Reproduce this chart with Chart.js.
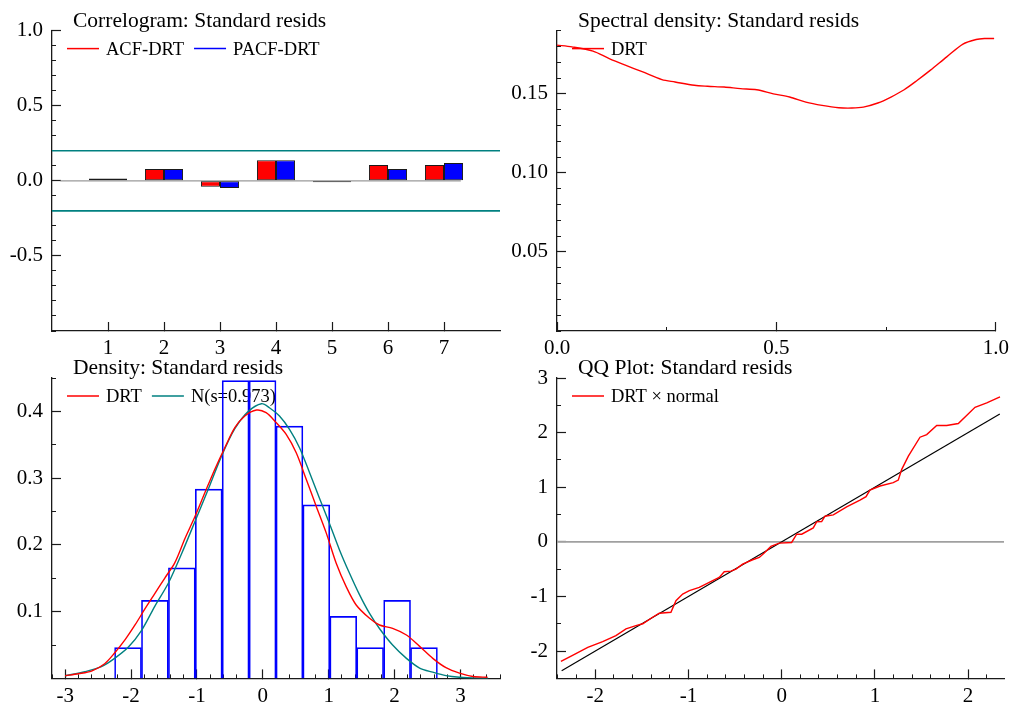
<!DOCTYPE html>
<html>
<head>
<meta charset="utf-8">
<title>Standard resids</title>
<script src="https://cdn.jsdelivr.net/npm/chart.js@4.4.1/dist/chart.umd.min.js"></script>
<style>
  body { margin: 0; background: #fff; }
  #wrap { position: relative; width: 1023px; height: 709px; background: #fff; overflow: hidden; }
  #wrap canvas { position: absolute; left: 0; top: 0; }
</style>
</head>
<body>
<div id="wrap">
  <canvas id="acfChart" width="1023" height="709"></canvas>
  <canvas id="specChart" width="1023" height="709"></canvas>
  <canvas id="densChart" width="1023" height="709"></canvas>
  <canvas id="qqChart" width="1023" height="709"></canvas>
</div>
<script>
// ---- correlogram
const lags = [1, 2, 3, 4, 5, 6, 7];
const acfVals = [0.015, 0.079, -0.040, 0.136, -0.009, 0.105, 0.105];
const pacfVals = [0.015, 0.079, -0.048, 0.136, -0.009, 0.079, 0.118];
const bandX = [0, 8];
const bandHi = [0.2, 0.2];
const bandLo = [-0.2, -0.2];
const acfZeroX = [0.15, 7.3];
const acfYTicks = [-0.5, 0, 0.5, 1];
const acfXTicks = [1, 2, 3, 4, 5, 6, 7];

// ---- spectral density
const specFreq = [0, 0.034, 0.082, 0.119, 0.157, 0.194, 0.239, 0.269, 0.313, 0.343, 0.381, 0.418, 0.455, 0.493, 0.530,
  0.567, 0.604, 0.642, 0.672, 0.698, 0.731, 0.761, 0.791, 0.821, 0.851, 0.888, 0.925, 0.955, 0.974, 0.996];
const specVals = [0.1808, 0.1797, 0.1770, 0.1723, 0.1680, 0.1640, 0.1590, 0.1575, 0.1554, 0.1548, 0.1543, 0.1533, 0.1526, 0.1500, 0.1480,
  0.1448, 0.1427, 0.1412, 0.1410, 0.1416, 0.1442, 0.1480, 0.1526, 0.1586, 0.1650, 0.1734, 0.1815, 0.1844, 0.1850, 0.1850];
const specYTicks = [0.05, 0.10, 0.15];
const specXTicks = [0, 0.5, 1];

// ---- density
const histMid = [-2.046, -1.638, -1.229, -0.821, -0.413, -0.004, 0.404, 0.812, 1.221, 1.629, 2.038, 2.446];
const histVals = [0.046, 0.117, 0.1655, 0.2835, 0.446, 0.446, 0.378, 0.260, 0.093, 0.046, 0.117, 0.046];
const kdeX = [-3.00, -2.80, -2.60, -2.40, -2.25, -2.09, -1.94, -1.79, -1.64, -1.49, -1.335, -1.18, -1.03, -0.88, -0.73,
  -0.577, -0.425, -0.273, -0.096, 0.05, 0.20, 0.355, 0.507, 0.66, 0.81, 0.962, 1.114, 1.265, 1.417, 1.62,
  1.77, 1.97, 2.18, 2.38, 2.58, 2.78, 2.985, 3.19, 3.41];
const kdeY = [0.004, 0.007, 0.011, 0.022, 0.038, 0.058, 0.080, 0.104, 0.127, 0.150, 0.1735, 0.210, 0.2425, 0.278, 0.313,
  0.3455, 0.3755, 0.393, 0.402, 0.398, 0.3835, 0.3655, 0.338, 0.298, 0.258, 0.218, 0.1725, 0.1375, 0.110, 0.090,
  0.080, 0.075, 0.065, 0.048, 0.030, 0.016, 0.0078, 0.0028, 0.0018];
const normX = [-3.00, -2.70, -2.45, -2.25, -2.04, -1.84, -1.64, -1.435, -1.23, -1.03, -0.83, -0.627, -0.425, -0.22, -0.02,
  0.10, 0.253, 0.405, 0.557, 0.71, 0.86, 1.01, 1.164, 1.316, 1.467, 1.62, 1.77, 1.97, 2.18, 2.38,
  2.58, 2.78, 2.985, 3.29, 3.42];
const normY = [0.004, 0.010, 0.0175, 0.030, 0.047, 0.072, 0.108, 0.1425, 0.1875, 0.235, 0.283, 0.333, 0.374, 0.400, 0.4115,
  0.4055, 0.393, 0.373, 0.3455, 0.308, 0.270, 0.2325, 0.1925, 0.1575, 0.1255, 0.0973, 0.0748, 0.050, 0.030, 0.0155,
  0.0093, 0.0042, 0.0018, 0.0003, 0.0002];
const densYTicks = [0.1, 0.2, 0.3, 0.4];
const densXTicks = [-3, -2, -1, 0, 1, 2, 3];

// ---- QQ plot
const qqX = [-2.368, -2.243, -2.08, -1.92, -1.778, -1.67, -1.563, -1.49, -1.384, -1.313, -1.188, -1.134, -1.062, -0.99, -0.884,
  -0.777, -0.67, -0.616, -0.544, -0.49, -0.419, -0.311, -0.24, -0.187, -0.115, -0.026, 0.107, 0.161, 0.215, 0.339,
  0.375, 0.429, 0.465, 0.554, 0.697, 0.84, 0.905, 0.947, 1.055, 1.197, 1.251, 1.288, 1.359, 1.484, 1.556,
  1.663, 1.77, 1.895, 2.074, 2.2, 2.342];
const qqY = [-2.19, -2.08, -1.93, -1.825, -1.715, -1.593, -1.533, -1.50, -1.38, -1.307, -1.29, -1.077, -0.955, -0.894, -0.833,
  -0.741, -0.65, -0.547, -0.535, -0.498, -0.407, -0.328, -0.285, -0.206, -0.084, -0.024, -0.011, 0.14, 0.14, 0.256,
  0.365, 0.372, 0.469, 0.493, 0.639, 0.766, 0.828, 0.949, 1.022, 1.084, 1.131, 1.327, 1.57, 1.916, 1.965,
  2.13, 2.13, 2.166, 2.464, 2.544, 2.653];
const qqLineX = [-2.36, 2.34];
const qqLineY = [-2.36, 2.34];
const qqZeroX = [-2.41, 2.385];
const qqYTicks = [-2, -1, 0, 1, 2, 3];
const qqXTicks = [-2, -1, 0, 1, 2];

const FONT = '"Liberation Serif", "Times New Roman", serif';
const AXIS = '#1a1a1a';
const RED = '#ff0000', BLUE = '#0000ff', TEAL = '#008080';

Chart.defaults.font.family = FONT;
Chart.defaults.color = '#000';

const pts = (xs, ys) => xs.map((x, i) => ({x: x, y: ys[i]}));
const steps = (a, b, d) => {
  const out = [];
  for (let v = a; v <= b + 1e-9; v += d) out.push(Math.round(v * 1e6) / 1e6);
  return out;
};

function majorAxis(pos, min, max, values, digits) {
  const horiz = pos === 'bottom';
  return {
    type: 'linear', position: pos, min: min, max: max, weight: 1, offset: false,
    afterBuildTicks: s => { s.ticks = values.map(v => ({value: v})); },
    afterFit: s => { if (horiz) s.height = 25; else s.width = 50; },
    border: {display: true, color: AXIS, width: 1.3},
    grid: {offset: false, drawOnChartArea: false, drawTicks: true, tickLength: -9, tickColor: AXIS, tickWidth: 1.2},
    ticks: {autoSkip: false, maxRotation: 0, padding: horiz ? 14 : 18, color: '#000',
      font: {family: FONT, size: 21}, callback: v => v.toFixed(digits)}
  };
}

function minorAxis(pos, min, max, values) {
  const horiz = pos === 'bottom';
  return {
    type: 'linear', position: pos, min: min, max: max, weight: 0, offset: false,
    afterBuildTicks: s => { s.ticks = values.map(v => ({value: v})); },
    afterFit: s => { if (horiz) s.height = 0; else s.width = 0; },
    border: {display: false},
    grid: {offset: false, drawOnChartArea: false, drawTicks: true, tickLength: -4, tickColor: AXIS, tickWidth: 1},
    ticks: {display: false, autoSkip: false}
  };
}

// title above the frame and line legend inside it
function panelText(title, items) {
  return {
    id: 'panelText',
    beforeDatasetsDraw(chart) {
      const {ctx, chartArea} = chart;
      ctx.save();
      ctx.font = '18.5px ' + FONT;
      ctx.lineWidth = 1.5;
      let x = chartArea.left + 15;
      items.forEach(it => {
        ctx.strokeStyle = it.color;
        ctx.beginPath();
        ctx.moveTo(x, chartArea.top + 18);
        ctx.lineTo(x + 32, chartArea.top + 18);
        ctx.stroke();
        ctx.fillStyle = '#000';
        ctx.fillText(it.text, x + 39, chartArea.top + 24);
        x += 39 + ctx.measureText(it.text).width + 10;
      });
      ctx.restore();
    },
    afterDraw(chart) {
      const {ctx, chartArea} = chart;
      ctx.save();
      ctx.font = '21.5px ' + FONT;
      ctx.fillStyle = '#000';
      ctx.fillText(title, chartArea.left + 21, chartArea.top - 4);
      ctx.restore();
    }
  };
}

// chart area in page pixels -> layout padding
function pad(L, T, R, B) {
  return {left: L - 50, top: T, right: 1023 - R, bottom: 709 - B - 25};
}

const lineDs = (data, color, width, extra) => Object.assign({
  type: 'line', data: data, borderColor: color, backgroundColor: color, borderWidth: width,
  pointRadius: 0, fill: false, tension: 0
}, extra || {});

const common = {
  responsive: false, animation: false, events: [],
  plugins: {legend: {display: false}, tooltip: {enabled: false}}
};

// Correlogram
new Chart(document.getElementById('acfChart'), {
  type: 'line',
  data: {
    datasets: [
      {type: 'bar', label: 'ACF-DRT', data: pts(lags, acfVals), backgroundColor: RED, borderColor: AXIS,
        borderWidth: 1, borderSkipped: false, categoryPercentage: 0.68, barPercentage: 1},
      {type: 'bar', label: 'PACF-DRT', data: pts(lags, pacfVals), backgroundColor: BLUE, borderColor: AXIS,
        borderWidth: 1, borderSkipped: false, categoryPercentage: 0.68, barPercentage: 1},
      lineDs(pts(bandX, bandHi), TEAL, 1.6),
      lineDs(pts(bandX, bandLo), TEAL, 1.6),
      lineDs(pts(acfZeroX, [0, 0]), '#9a9a9a', 1.2)
    ]
  },
  options: Object.assign({}, common, {
    layout: {padding: pad(52, 29, 500, 331)},
    scales: {
      x: majorAxis('bottom', 0, 8, acfXTicks, 0),
      y: majorAxis('left', -1, 1, acfYTicks, 1),
      ym: minorAxis('left', -1, 1, steps(-1, 1, 0.1))
    }
  }),
  plugins: [panelText('Correlogram: Standard resids', [{text: 'ACF-DRT', color: RED}, {text: 'PACF-DRT', color: BLUE}])]
});

// Spectral density
new Chart(document.getElementById('specChart'), {
  type: 'line',
  data: {datasets: [lineDs(pts(specFreq, specVals), RED, 1.4, {tension: 0.3})]},
  options: Object.assign({}, common, {
    layout: {padding: pad(557, 29, 1004, 331)},
    scales: {
      x: majorAxis('bottom', 0, 1, specXTicks, 1),
      xm: minorAxis('bottom', 0, 1, [0.25, 0.75]),
      y: majorAxis('left', 0, 0.19, specYTicks, 2),
      ym: minorAxis('left', 0, 0.19, steps(0, 0.19, 0.01))
    }
  }),
  plugins: [panelText('Spectral density: Standard resids', [{text: 'DRT', color: RED}])]
});

// Density
new Chart(document.getElementById('densChart'), {
  type: 'line',
  data: {
    datasets: [
      lineDs(pts(kdeX, kdeY), RED, 1.4, {tension: 0.3}),
      lineDs(pts(normX, normY), TEAL, 1.4, {tension: 0.3}),
      {type: 'bar', label: 'hist', data: pts(histMid, histVals), backgroundColor: 'rgba(0,0,0,0)',
        borderColor: BLUE, borderWidth: 1, borderSkipped: 'start', categoryPercentage: 1, barPercentage: 1}
    ]
  },
  options: Object.assign({}, common, {
    layout: {padding: pad(52, 378, 500, 680)},
    scales: {
      x: majorAxis('bottom', -3.2, 3.6, densXTicks, 0),
      xm: minorAxis('bottom', -3.2, 3.6, steps(-3.2, 3.6, 0.2)),
      y: majorAxis('left', 0, 0.45, densYTicks, 1),
      ym: minorAxis('left', 0, 0.45, steps(0, 0.45, 0.05))
    }
  }),
  plugins: [panelText('Density: Standard resids', [{text: 'DRT', color: RED}, {text: 'N(s=0.973)', color: TEAL}])]
});

// QQ plot
new Chart(document.getElementById('qqChart'), {
  type: 'line',
  data: {
    datasets: [
      lineDs(pts(qqX, qqY), RED, 1.4),
      lineDs(pts(qqLineX, qqLineY), '#000', 1.2),
      lineDs(pts(qqZeroX, [0, 0]), '#a0a0a0', 1.6)
    ]
  },
  options: Object.assign({}, common, {
    layout: {padding: pad(557, 378, 1004, 680)},
    scales: {
      x: majorAxis('bottom', -2.41, 2.385, qqXTicks, 0),
      xm: minorAxis('bottom', -2.41, 2.385, steps(-2.4, 2.385, 0.2)),
      y: majorAxis('left', -2.5, 3, qqYTicks, 0),
      ym: minorAxis('left', -2.5, 3, steps(-2.5, 3, 0.5))
    }
  }),
  plugins: [panelText('QQ Plot: Standard resids', [{text: 'DRT \u00d7 normal', color: RED}])]
});
</script>
</body>
</html>
